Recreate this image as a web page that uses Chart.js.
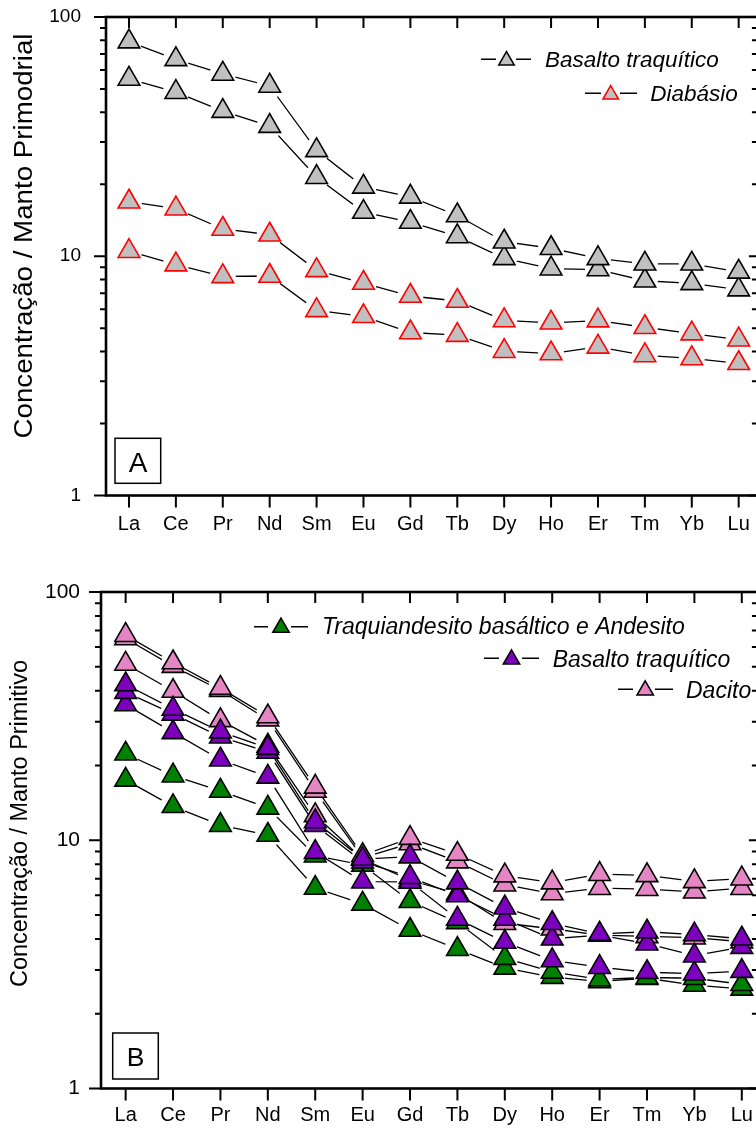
<!DOCTYPE html>
<html>
<head>
<meta charset="utf-8">
<script src="https://cdn.jsdelivr.net/npm/chart.js@4.4.1/dist/chart.umd.min.js"></script>
<style>
html,body{margin:0;padding:0;background:#fff;overflow:hidden;width:756px;height:1129px;position:relative;}
#ca{position:absolute;left:0;top:0;}
#cb{position:absolute;left:0;top:560px;}
</style>
</head>
<body>
<canvas id="ca" width="772" height="560"></canvas>
<canvas id="cb" width="772" height="569"></canvas>
<script>
// ---------- DATA ----------
const elements = ['La','Ce','Pr','Nd','Sm','Eu','Gd','Tb','Dy','Ho','Er','Tm','Yb','Lu'];
const yTickLabels = [1, 10, 100];

// Panel A
const titleA = 'Concentração / Manto Primodrial';
const namesA = ['Basalto traquítico', 'Diabásio'];
const basaltoA1 = [78.9, 66.5, 57.8, 51.5, 27.7, 19.5, 17.7, 14.8, 11.5, 10.8, 9.8, 9.3, 9.3, 8.6];
const basaltoA2 = [55.1, 48.5, 40.4, 35.0, 21.4, 15.3, 13.9, 12.1, 9.8, 8.87, 8.8, 7.9, 7.7, 7.25];
const diabasio1 = [16.9, 15.8, 13.0, 12.3, 8.73, 7.73, 6.82, 6.5, 5.39, 5.27, 5.38, 5.05, 4.75, 4.48];
const diabasio2 = [10.5, 9.23, 8.24, 8.27, 5.94, 5.61, 4.80, 4.68, 4.01, 3.92, 4.18, 3.85, 3.74, 3.57];

// Panel B
const titleB = 'Concentração / Manto Primitivo';
const namesB = ['Traquiandesito basáltico e Andesito', 'Basalto traquítico', 'Dacito'];
const traqui1 = [22.3, 18.2, 15.8, 13.5, 8.67, 7.95, 5.68, 4.67, 3.35, 2.95, 2.75, 2.8, 2.78, 2.63];
const traqui2 = [17.5, 13.7, 11.5, 10.5, 6.42, 5.54, 4.35, 3.64, 3.06, 2.81, 2.70, 2.78, 2.61, 2.52];
const basaltoB1 = [42.4, 33.8, 27.4, 23.5, 11.9, 8.4, 8.59, 6.75, 5.35, 4.63, 4.2, 4.28, 4.17, 4.01];
const basaltoB2 = [39.5, 32.3, 26.1, 22.7, 11.5, 8.2, 7.1, 5.99, 4.82, 4.01, 4.15, 3.83, 3.43, 3.71];
const basaltoB3 = [35.2, 27.2, 21.1, 18.0, 8.96, 6.81, 6.8, 4.82, 3.89, 3.28, 3.08, 2.94, 2.9, 2.97];
const dacito1 = [67, 52, 41, 31.5, 16.4, 8.7, 10.2, 8.8, 7.2, 6.75, 7.3, 7.22, 6.83, 7.0];
const dacito2 = [65, 50.3, 40.2, 30.6, 15.8, 8.5, 9.7, 8.2, 6.62, 6.1, 6.41, 6.35, 6.2, 6.41];
const dacito3 = [51.3, 39.9, 30.4, 24.0, 12.6, 8.4, 6.9, 6.1, 4.63, 4.4, 4.15, 4.1, 4.05, 3.9];

// ---------- STYLE ----------
const FONT = "'Liberation Sans', Arial, Helvetica, sans-serif";
const GRAY = '#c0c0c0', RED = '#ff0000', GREEN = '#008000', PURPLE = '#7d00be', PINK = '#e386c3';
const GAP = 13;

function pts(vals){ return vals.map((v,i)=>({x:i, y:v})); }
function isMajor(v){ const l = Math.log10(v); return Math.abs(l - Math.round(l)) < 1e-9 && yTickLabels.includes(Math.round(v)); }

function lineDs(vals){
  return {
    data: pts(vals), order: 10, gapLine: true,
    borderColor: '#000', borderWidth: 1.3,
    pointRadius: 0, pointHoverRadius: 0,
    tension: 0, fill: false, clip: false
  };
}
function markDs(vals, fill, border, order){
  return {
    data: pts(vals), order: order, showLine: false,
    borderColor: '#000',
    pointStyle: 'triangle', pointRadius: 12.5, pointHoverRadius: 12.5,
    pointBackgroundColor: fill, pointBorderColor: border, pointBorderWidth: 1.6,
    fill: false, clip: false
  };
}

const gapPlugin = {
  id: 'gap',
  beforeDatasetDraw(chart, args){
    const d = chart.data.datasets[args.index];
    if (!d.gapLine) return;
    const ctx = chart.ctx;
    ctx.save();
    ctx.beginPath();
    ctx.rect(0, 0, chart.width, chart.height);
    args.meta.data.forEach(p => { ctx.moveTo(p.x + GAP, p.y); ctx.arc(p.x, p.y, GAP, 0, Math.PI*2); });
    ctx.clip('evenodd');
  },
  afterDatasetDraw(chart, args){
    if (chart.data.datasets[args.index].gapLine) chart.ctx.restore();
  }
};

function tri(ctx, cx, cy, r){
  ctx.beginPath();
  let rad = 0;
  ctx.moveTo(cx + Math.sin(rad)*r, cy - Math.cos(rad)*r);
  rad += 2*Math.PI/3;
  ctx.lineTo(cx + Math.sin(rad)*r, cy - Math.cos(rad)*r);
  rad += 2*Math.PI/3;
  ctx.lineTo(cx + Math.sin(rad)*r, cy - Math.cos(rad)*r);
  ctx.closePath();
  ctx.fill(); ctx.stroke();
}

function decoPlugin(cfg){
  return {
    id: 'deco',
    afterDatasetsDraw(chart){
      const ctx = chart.ctx;
      const {left, top, right, bottom} = chart.chartArea;
      const xs = chart.scales.x, ys = chart.scales.y;
      ctx.save();
      ctx.strokeStyle = '#000';
      ctx.lineWidth = 2;
      ctx.beginPath();
      const vals = [];
      for (let dec = 1; dec < 100; dec *= 10) for (let m = 1; m <= 9; m++) vals.push(m*dec);
      vals.push(100);
      vals.forEach(v => {
        const py = ys.getPixelForValue(v);
        const maj = isMajor(v);
        ctx.moveTo(left, py); ctx.lineTo(left - (maj ? 12 : 6), py);
        ctx.moveTo(right, py); ctx.lineTo(right - (maj ? 9 : 6), py);
      });
      elements.forEach((c,i) => {
        const px = xs.getPixelForValue(i);
        ctx.moveTo(px, bottom); ctx.lineTo(px, bottom + 12);
        ctx.moveTo(px, top); ctx.lineTo(px, top + 11);
      });
      ctx.stroke();
      ctx.lineWidth = 2.6;
      ctx.strokeRect(left, top, right - left, bottom - top);

      ctx.save();
      ctx.translate(cfg.title.x, cfg.title.y);
      ctx.rotate(-Math.PI/2);
      ctx.font = cfg.title.size + 'px ' + FONT;
      const w = ctx.measureText(cfg.title.text).width;
      ctx.scale(cfg.title.len / w, 1);
      ctx.fillStyle = '#000';
      ctx.textAlign = 'center';
      ctx.textBaseline = 'alphabetic';
      ctx.fillText(cfg.title.text, 0, 0);
      ctx.restore();

      cfg.legend.forEach(it => {
        ctx.strokeStyle = '#000'; ctx.lineWidth = 1.5;
        ctx.beginPath();
        ctx.moveTo(it.l1[0], it.y); ctx.lineTo(it.l1[1], it.y);
        ctx.moveTo(it.l2[0], it.y); ctx.lineTo(it.l2[1], it.y);
        ctx.stroke();
        ctx.fillStyle = it.fill; ctx.strokeStyle = it.border; ctx.lineWidth = 1.5;
        tri(ctx, it.cx, it.cy, it.r);
        ctx.fillStyle = '#000';
        ctx.font = 'italic ' + it.fs + 'px ' + FONT;
        ctx.textAlign = 'left'; ctx.textBaseline = 'alphabetic';
        ctx.fillText(it.text, it.tx, it.ty);
      });

      const b = cfg.box;
      ctx.strokeStyle = '#000'; ctx.lineWidth = 1.5;
      ctx.strokeRect(b.x, b.y, b.w, b.h);
      ctx.fillStyle = '#000';
      ctx.font = b.fs + 'px ' + FONT;
      ctx.textAlign = 'center'; ctx.textBaseline = 'alphabetic';
      ctx.fillText(b.text, b.tx, b.ty);
      ctx.restore();
    }
  };
}

function makeChart(id, datasets, geo, deco){
  return new Chart(document.getElementById(id), {
    type: 'line',
    data: { datasets },
    options: {
      responsive: false, animation: false, devicePixelRatio: 1,
      layout: { padding: { left: 0, top: geo.top, right: geo.right, bottom: 0 } },
      plugins: { legend: { display: false }, tooltip: { enabled: false } },
      scales: {
        x: {
          type: 'linear', min: geo.xmin, max: geo.xmax,
          afterBuildTicks: s => { s.ticks = elements.map((c,i)=>({value:i})); },
          afterFit: s => { s.height = geo.xh; s.paddingLeft = 0; s.paddingRight = 0; s.paddingTop = 0; s.paddingBottom = 0; },
          ticks: { callback: v => elements[v], autoSkip: false, maxRotation: 0, minRotation: 0,
                   color: '#000', font: { family: FONT, size: 20 }, padding: geo.xpad },
          grid: { display: false, drawTicks: false }, border: { display: false }
        },
        y: {
          type: 'logarithmic', min: 1, max: 100,
          afterFit: s => { s.width = geo.yw; s.paddingLeft = 0; s.paddingRight = 0; s.paddingTop = 0; s.paddingBottom = 0; },
          ticks: { callback: v => isMajor(v) ? String(Math.round(v)) : '', autoSkip: false,
                   color: '#000', font: { family: FONT, size: geo.yfs }, padding: geo.ypad },
          grid: { display: false, drawTicks: false }, border: { display: false }
        }
      }
    },
    plugins: [gapPlugin, decoPlugin(deco)]
  });
}

const seriesA = [
  { vals: basaltoA1, fill: GRAY, border: '#000', order: 0 },
  { vals: basaltoA2, fill: GRAY, border: '#000', order: 0 },
  { vals: diabasio1, fill: GRAY, border: RED, order: 1 },
  { vals: diabasio2, fill: GRAY, border: RED, order: 1 }
];
makeChart('ca',
  seriesA.map(s => lineDs(s.vals)).concat(seriesA.map(s => markDs(s.vals, s.fill, s.border, s.order))),
  { top: 17, right: 14, xh: 64.5, yw: 106, xmin: -0.49, xmax: 13.41, xpad: 16.5, yfs: 19, ypad: 25 },
{
  title: { text: titleA, x: 31.5, y: 236, size: 26, len: 405 },
  legend: [
    { text: namesA[0], l1: [481, 496], l2: [516, 531], y: 59.3, cx: 506.5, cy: 60.5, r: 9, fill: GRAY, border: '#000', tx: 545, ty: 67.3, fs: 22.5 },
    { text: namesA[1], l1: [585, 601], l2: [620, 637], y: 93.3, cx: 610.7, cy: 94.5, r: 9, fill: GRAY, border: RED, tx: 650.3, ty: 100.7, fs: 22.5 }
  ],
  box: { x: 115, y: 438.3, w: 45.7, h: 45, text: 'A', tx: 138, ty: 471.7, fs: 28 }
});

const seriesB = [
  { vals: basaltoB1, fill: PURPLE, border: '#000', order: 0 },
  { vals: basaltoB2, fill: PURPLE, border: '#000', order: 0 },
  { vals: basaltoB3, fill: PURPLE, border: '#000', order: 0 },
  { vals: dacito1, fill: PINK, border: '#000', order: 1 },
  { vals: dacito2, fill: PINK, border: '#000', order: 1 },
  { vals: dacito3, fill: PINK, border: '#000', order: 1 },
  { vals: traqui1, fill: GREEN, border: '#000', order: 2 },
  { vals: traqui2, fill: GREEN, border: '#000', order: 2 }
];
makeChart('cb',
  seriesB.map(s => lineDs(s.vals)).concat(seriesB.map(s => markDs(s.vals, s.fill, s.border, s.order))),
  { top: 32, right: 14, xh: 40.5, yw: 101, xmin: -0.52, xmax: 13.34, xpad: 15, yfs: 21, ypad: 21 },
{
  title: { text: titleB, x: 26.8, y: 263.5, size: 23.5, len: 327 },
  legend: [
    { text: namesB[0], l1: [254, 268], l2: [291, 308], y: 66.7, cx: 281, cy: 67.5, r: 9.5, fill: GREEN, border: '#000', tx: 322, ty: 74.3, fs: 23 },
    { text: namesB[1], l1: [484, 499], l2: [522, 539], y: 98.3, cx: 511.5, cy: 99.3, r: 9.5, fill: PURPLE, border: '#000', tx: 552.7, ty: 106.7, fs: 23 },
    { text: namesB[2], l1: [618, 633], l2: [655, 673], y: 129.3, cx: 645.2, cy: 130.3, r: 9.5, fill: PINK, border: '#000', tx: 686, ty: 137.7, fs: 23 }
  ],
  box: { x: 112.7, y: 473, w: 45.6, h: 46, text: 'B', tx: 135.5, ty: 505.7, fs: 26.5 }
});
</script>
</body>
</html>
